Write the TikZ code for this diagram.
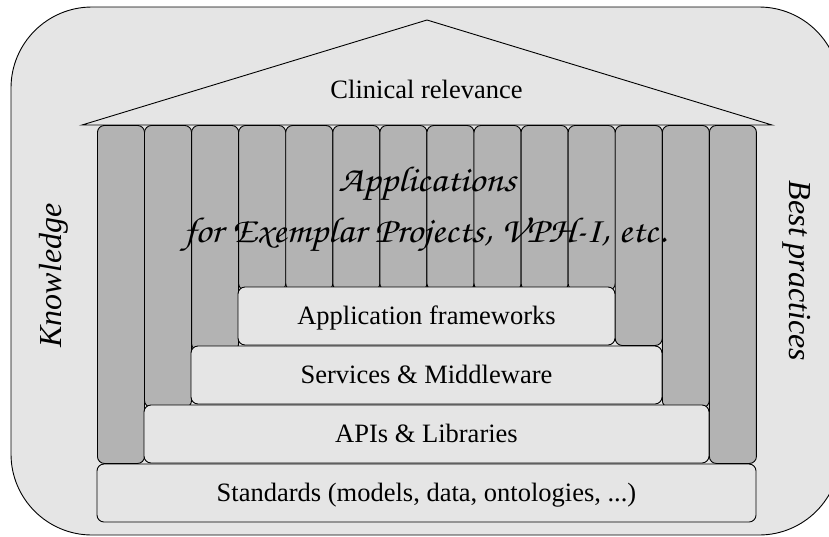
\documentclass[tikz,border=0pt]{standalone}
\usepackage{fontspec}
\setmainfont{Liberation Serif}
\newfontfamily\callig{texgyrechorus-mediumitalic.otf}
\definecolor{paneBg}{HTML}{E5E5E5}
\definecolor{pillarFill}{HTML}{B3B3B3}
\newcommand\mainsize{\fontsize{26.5}{30}\selectfont}
\newcommand\wideapp[1]{\scalebox{1.1}[1]{#1}}
\tikzset{
  outline/.style={draw=black, line width=0.9pt},
  pillar/.style={outline, fill=pillarFill, rounded corners=7pt, anchor=north west,
    minimum width=47.07pt, inner sep=0pt},
  layer/.style={outline, fill=paneBg, rounded corners=7pt, inner sep=0pt,
    text height=17.5pt, text depth=0pt, font=\mainsize, minimum height=58pt},
  sidetext/.style={font=\itshape\fontsize{32}{36}\selectfont, inner sep=0pt},
  apptext/.style={font=\callig\fontsize{36}{40}\selectfont, anchor=base, inner sep=0pt},
}
\begin{document}
\begin{tikzpicture}[x=1pt,y=-1pt]
\useasboundingbox (0,0) rectangle (829,536);
% background frame
\draw[outline, fill=paneBg, rounded corners=81pt] (11,7) rectangle (840,535);
% roof
\draw[outline, fill=paneBg] (82,125) -- (427,20) -- (772,125) -- cycle;
\node[font=\mainsize, anchor=base, inner sep=0pt] (roof) at (426.5,98) {Clinical relevance};
% pillars
\foreach \i/\b in {1/463,2/407,3/350,4/290,5/290,6/290,7/290,8/290,9/290,10/290,11/290,12/345,13/407,14/463} {
  \node[pillar, minimum height={\b-125}] (p\i) at ({97+47.07*(\i-1)},125) {};
}
% layers
\node[layer, minimum width=377pt] (af)  at (426.5,316) {Application frameworks};
\node[layer, minimum width=471pt] (sm)  at (426.5,375) {Services \& Middleware};
\node[layer, minimum width=565pt] (api) at (426.5,434) {APIs \& Libraries};
\node[layer, minimum width=659pt] (std) at (426.5,493) {Standards (models, data, ontologies, ...)};
% applications
\node[apptext] (apps1) at (427,191) {\wideapp{Applications}};
\node[apptext] (apps2) at (425,242) {\wideapp{for Exemplar Projects, VPH-I, etc.}};
% side labels
\node[sidetext, rotate=90]  (know) at (53.5,275.5) {Knowledge};
\node[sidetext, rotate=-90] (best) at (797,271) {Best practices};
\end{tikzpicture}
\end{document}
